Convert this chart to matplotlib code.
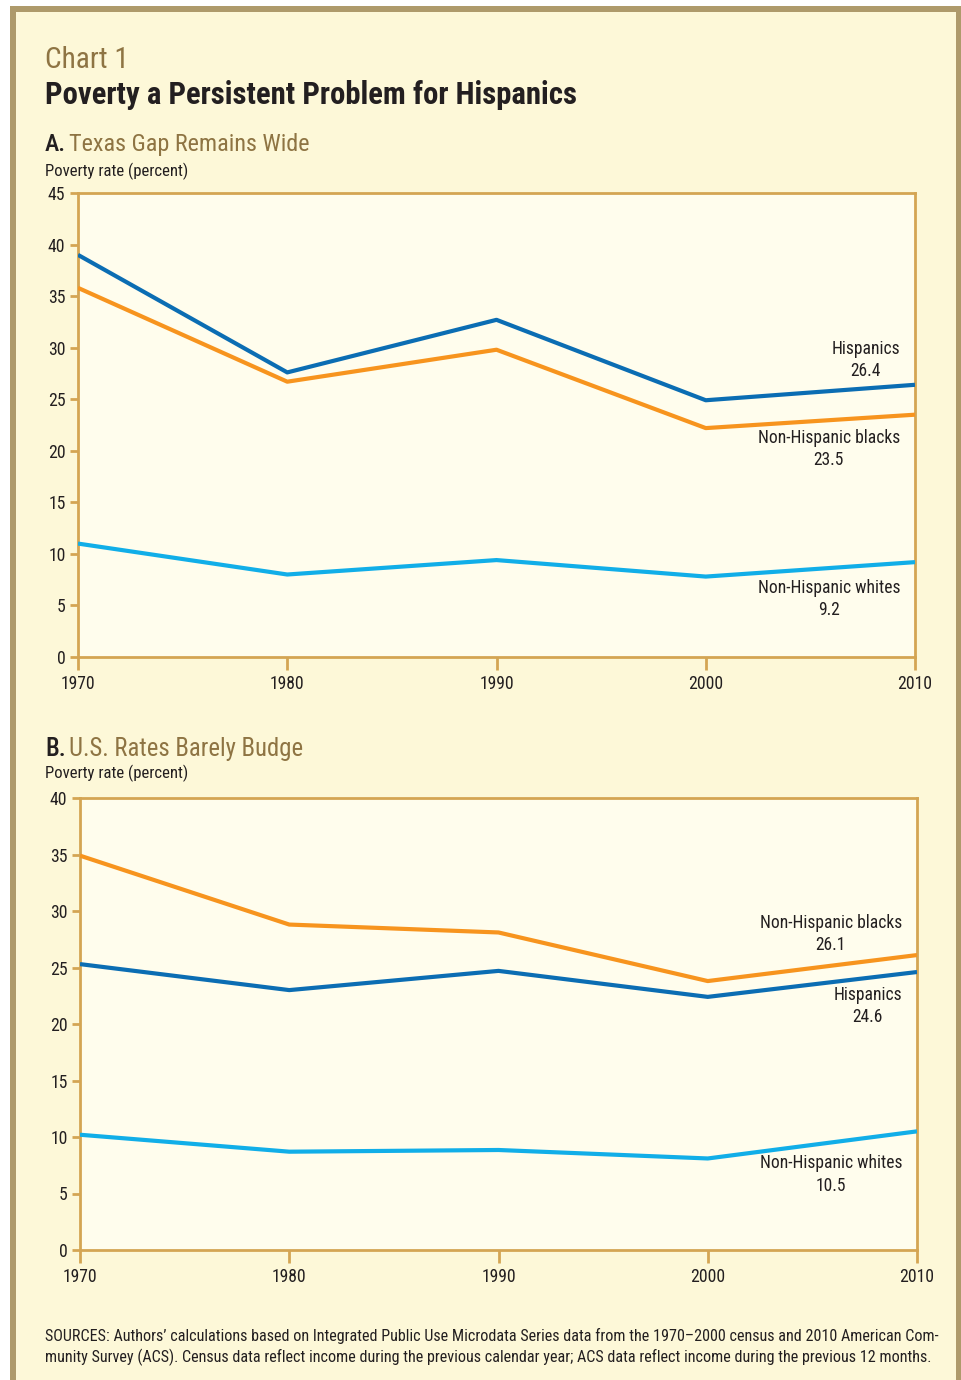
import matplotlib
matplotlib.use("Agg")
import matplotlib.pyplot as plt
from matplotlib import font_manager as fm
from matplotlib.font_manager import FontProperties
from matplotlib.patches import Rectangle

# pick a narrow sans face if one is installed
installed = {f.name for f in fm.fontManager.ttflist}
narrow = None
for name in ['Liberation Sans Narrow', 'Roboto Condensed', 'Open Sans Condensed',
             'Noto Sans Condensed', 'DejaVu Sans Condensed']:
    if name in installed:
        narrow = name
        break
if narrow is None:
    extra = sorted(n for n in installed if 'Condensed' in n or 'Narrow' in n)
    narrow = extra[0] if extra else None
if narrow is None:
    plt.rcParams['font.family'] = ['DejaVu Sans']
    plt.rcParams['font.stretch'] = 'condensed'
else:
    plt.rcParams['font.family'] = [narrow, 'DejaVu Sans']

years = [1970, 1980, 1990, 2000, 2010]

# Panel A: Texas
tx_hispanic = [39.0, 27.6, 32.7, 24.9, 26.4]
tx_black = [35.8, 26.7, 29.8, 22.2, 23.5]
tx_white = [11.0, 8.0, 9.4, 7.8, 9.2]

# Panel B: United States
us_hispanic = [25.3, 23.0, 24.7, 22.4, 24.6]
us_black = [34.9, 28.8, 28.1, 23.8, 26.1]
us_white = [10.2, 8.7, 8.85, 8.1, 10.5]

DARK_BLUE = '#0b6db3'
ORANGE = '#f7941e'
LIGHT_BLUE = '#11aee8'
SPINE = '#d4a553'
TAN = '#8e7443'
INK = '#231f20'
PAGE = '#fdf8d8'
PLOT_BG = '#fffded'
FRAME = '#ae9a6b'

W, H = 962, 1380
fig = plt.figure(figsize=(W / 100, H / 100), dpi=100)
fig.patch.set_facecolor('white')
renderer = fig.canvas.get_renderer()


def fit_size(s, width_px, weight='normal'):
    """Font size that makes string s about width_px pixels wide."""
    fp = FontProperties(size=10, weight=weight)
    w, _, _ = renderer.get_text_width_height_descent(s, fp, ismath=False)
    return 10 * width_px / w


def px_box(left, top, right, bottom):
    return [left / W, 1 - bottom / H, (right - left) / W, (bottom - top) / H]


def fx(x):
    return x / W


def fy(y):
    return 1 - y / H


# page background and frame
fig.add_artist(Rectangle((fx(10), 0), fx(952), fy(6), transform=fig.transFigure,
                         facecolor=PAGE, edgecolor='none', zorder=0))
fig.add_artist(Rectangle((fx(10), fy(12)), fx(952), 6 / H, transform=fig.transFigure,
                         facecolor=FRAME, edgecolor='none', zorder=1))
fig.add_artist(Rectangle((fx(10), 0), 6 / W, fy(6), transform=fig.transFigure,
                         facecolor=FRAME, edgecolor='none', zorder=1))
fig.add_artist(Rectangle((fx(956), 0), 6 / W, fy(6), transform=fig.transFigure,
                         facecolor=FRAME, edgecolor='none', zorder=1))

# headings (the display faces are narrower than ours, so trade a little width for height)
fig.text(fx(45), fy(68), 'Chart 1', color=TAN, fontsize=1.25 * fit_size('Chart 1', 67),
         va='baseline')
title = 'Poverty a Persistent Problem for Hispanics'
fig.text(fx(45), fy(104), title, color=INK, fontsize=1.08 * fit_size(title, 494, 'bold'),
         fontweight='bold', va='baseline')

label_size = fit_size('Poverty rate (percent)', 136) * 1.05
tick_size = fit_size('1970', 32) * 1.08
note_size = fit_size('Non-Hispanic blacks', 129) * 1.1


def panel_heading(y, letter, title, width):
    size = 1.22 * fit_size(letter + ' ' + title, width)
    t = fig.text(fx(45), fy(y), letter, color=INK, fontsize=size, va='baseline',
                 fontweight='medium')
    bb = t.get_window_extent(renderer)
    gap = 0.5 * renderer.get_text_width_height_descent(' ', FontProperties(size=size),
                                                       ismath=False)[0]
    fig.text((bb.x1 + gap) / W, fy(y), title, color=TAN, fontsize=size, va='baseline')


panel_heading(151, 'A.', 'Texas Gap Remains Wide', 217)
fig.text(fx(45), fy(176), 'Poverty rate (percent)', color=INK, fontsize=label_size,
         va='baseline')
panel_heading(756, 'B.', 'U.S. Rates Barely Budge', 212)
fig.text(fx(45), fy(778), 'Poverty rate (percent)', color=INK, fontsize=label_size,
         va='baseline')


def draw_panel(ax, ymax, series, labels):
    ax.set_facecolor(PLOT_BG)
    for vals, color in series:
        ax.plot(years, vals, color=color, lw=3, solid_capstyle='butt', zorder=3)
    ax.set_xlim(1970, 2010)
    ax.set_ylim(0, ymax)
    ax.set_xticks(years)
    ax.set_yticks(range(0, ymax + 1, 5))
    for s in ax.spines.values():
        s.set_color(SPINE)
        s.set_linewidth(2)
    ax.tick_params(axis='y', length=6, width=2, color=SPINE, pad=3,
                   labelsize=tick_size, labelcolor=INK)
    ax.tick_params(axis='x', length=9, width=2, color=SPINE, pad=4,
                   labelsize=tick_size, labelcolor=INK)
    for text, yval, dy, va in labels:
        ax.annotate(text, xy=(2010, yval), xytext=(-15, dy), textcoords='offset pixels',
                    ha='right', va=va, multialignment='center', fontsize=note_size,
                    color=INK, linespacing=1.3)


ax_a = fig.add_axes(px_box(78, 193, 915, 657))
draw_panel(ax_a, 45,
           [(tx_white, LIGHT_BLUE), (tx_black, ORANGE), (tx_hispanic, DARK_BLUE)],
           [(f'Hispanics\n{tx_hispanic[-1]}', tx_hispanic[-1], 5, 'bottom'),
            (f'Non-Hispanic blacks\n{tx_black[-1]}', tx_black[-1], -14, 'top'),
            (f'Non-Hispanic whites\n{tx_white[-1]}', tx_white[-1], -17, 'top')])

ax_b = fig.add_axes(px_box(80, 798, 917, 1250))
draw_panel(ax_b, 40,
           [(us_white, LIGHT_BLUE), (us_black, ORANGE), (us_hispanic, DARK_BLUE)],
           [(f'Non-Hispanic blacks\n{us_black[-1]}', us_black[-1], 1, 'bottom'),
            (f'Hispanics\n{us_hispanic[-1]}', us_hispanic[-1], -14, 'top'),
            (f'Non-Hispanic whites\n{us_white[-1]}', us_white[-1], -23, 'top')])

source_1 = ('SOURCES: Authors\u2019 calculations based on Integrated Public Use Microdata '
            'Series data from the 1970\u20132000 census and 2010 American Com-')
source_2 = ('munity Survey (ACS). Census data reflect income during the previous '
            'calendar year; ACS data reflect income during the previous 12 months.')
source_size = fit_size(source_1, 891)
fig.text(fx(45), fy(1341), source_1, color=INK, fontsize=source_size, va='baseline')
fig.text(fx(45), fy(1362), source_2, color=INK, fontsize=source_size, va='baseline')

fig.savefig('out.png', dpi=100, facecolor=fig.get_facecolor())
